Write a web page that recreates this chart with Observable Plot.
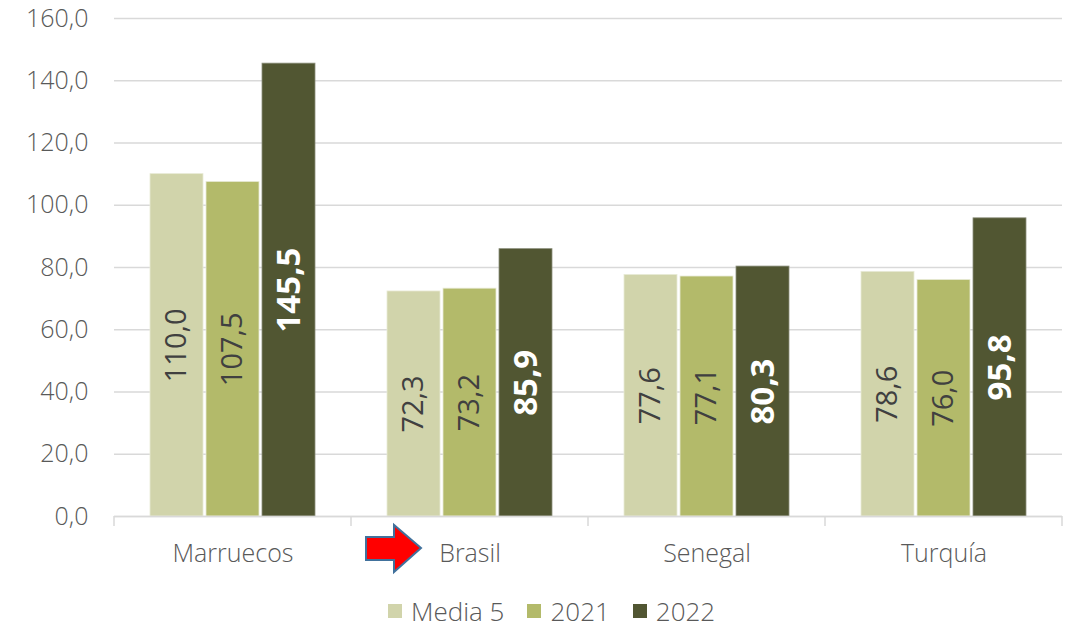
<!DOCTYPE html>
<html>
<head>
<meta charset="utf-8">
<script src="https://cdn.jsdelivr.net/npm/d3@7"></script>
<script src="https://cdn.jsdelivr.net/npm/@observablehq/plot@0.6"></script>
<style>
  html, body { margin: 0; padding: 0; background: #fff; }
  #wrap { position: relative; width: 1071px; height: 627px; font-family: "Open Sans", sans-serif; }
  #legend { position: absolute; top: 593px; left: 388px; display: flex; align-items: center; font-size: 26px; line-height: 36px; color: #595959; font-weight: 300; white-space: nowrap; }
  #legend .item { display: flex; align-items: center; margin-right: 23px; }
  #legend .sw { width: 14px; height: 14px; margin-right: 9px; }
</style>
</head>
<body>
<div id="wrap">
  <div id="chart"></div>
  <div id="legend"></div>
</div>
<script>
const categories = ["Marruecos", "Brasil", "Senegal", "Turquía"];
const series = ["Media 5", "2021", "2022"];
const media5 = [110.0, 72.3, 77.6, 78.6];
const v2021 = [107.5, 73.2, 77.1, 76.0];
const v2022 = [145.5, 85.9, 80.3, 95.8];
const yTicks = [0, 20, 40, 60, 80, 100, 120, 140, 160];
const colors = ["#d1d4ab", "#b3ba6a", "#515632"];

const valuesBySeries = [media5, v2021, v2022];
const data = [];
categories.forEach((c, i) => {
  series.forEach((s, j) => data.push({category: c, series: s, value: valuesBySeries[j][i]}));
});
const fmt = d => d.toFixed(1).replace(".", ",");

const plot = Plot.plot({
  width: 1071,
  height: 585,
  marginLeft: 112,
  marginRight: 8,
  marginTop: 18,
  marginBottom: 69,
  style: {fontFamily: "Open Sans, sans-serif", background: "#fff"},
  fx: {domain: categories, padding: 0, label: null},
  x: {domain: series, paddingInner: 0.06, paddingOuter: 0.64, axis: null},
  y: {domain: [0, 160], label: null},
  color: {domain: series, range: colors},
  marks: [
    Plot.gridY(yTicks, {stroke: "#d9d9d9", strokeOpacity: 1, strokeWidth: 1.5}),
    Plot.axisY(yTicks, {tickSize: 0, tickPadding: 26, tickFormat: fmt, fontSize: 25, fill: "#595959", fontWeight: 300, label: null}),
    Plot.axisFx({anchor: "bottom", tickSize: 0, tickPadding: 28, fontSize: 25, fill: "#595959", fontWeight: 300, label: null}),
    Plot.barY(data, {fx: "category", x: "series", y: "value", fill: "series", stroke: d => d.series === "2022" ? "#8c8f7c" : "#e8ead6", strokeWidth: 0.8}),
    Plot.ruleY([0], {stroke: "#d9d9d9", strokeWidth: 1.5}),
    Plot.text(data.filter(d => d.series !== "2022"), {fx: "category", x: "series", y: d => d.value / 2, text: d => fmt(d.value), rotate: -90, fill: "#404040", fontSize: 29, fontWeight: 400}),
    Plot.text(data.filter(d => d.series === "2022"), {fx: "category", x: "series", y: d => d.value / 2, text: d => fmt(d.value), rotate: -90, fill: "#ffffff", fontSize: 33, fontWeight: 700})
  ]
});
document.getElementById("chart").appendChild(plot);

// Category boundary ticks and annotation arrow, positioned from the fx scale
const fx = plot.scale("fx");
const y = plot.scale("y");
const svg = d3.select(plot);
const y0 = y.apply(0);
const bw = fx.bandwidth;
const edges = categories.map(c => fx.apply(c)).concat([fx.apply(categories[categories.length - 1]) + bw]);
svg.append("g").selectAll("line").data(edges).join("line")
  .attr("x1", d => d).attr("x2", d => d)
  .attr("y1", y0).attr("y2", y0 + 10)
  .attr("stroke", "#d9d9d9").attr("stroke-width", 1.5);

// Red arrow pointing at "Brasil"
const bx = fx.apply("Brasil");
const ax = bx + 15, ay = y0 + 32;
const arrow = [
  [ax, ay - 11], [ax + 28, ay - 11], [ax + 28, ay - 23], [ax + 55, ay],
  [ax + 28, ay + 24], [ax + 28, ay + 12], [ax, ay + 12]
];
svg.append("path")
  .attr("d", "M" + arrow.map(p => p.join(",")).join("L") + "Z")
  .attr("fill", "#ff0000").attr("stroke", "#41719c").attr("stroke-width", 2);

// Legend
const legend = d3.select("#legend");
series.forEach((s, i) => {
  const it = legend.append("div").attr("class", "item");
  it.append("div").attr("class", "sw").style("background", colors[i]);
  it.append("span").text(s);
});
</script>
</body>
</html>
